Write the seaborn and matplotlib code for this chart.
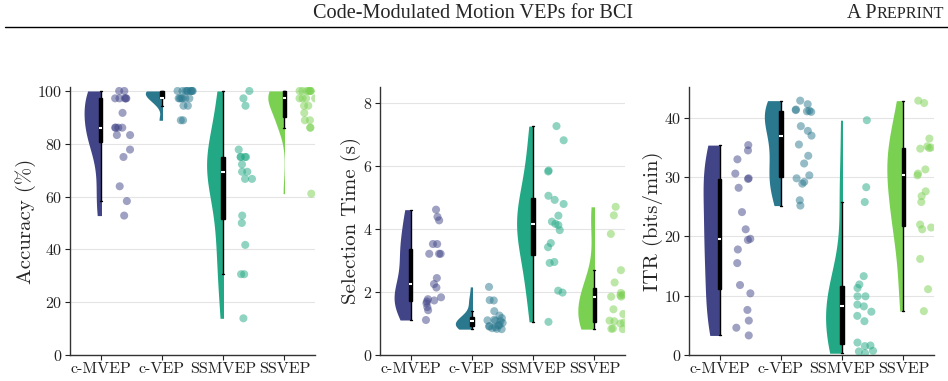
import numpy as np
import pandas as pd
import matplotlib
matplotlib.use("Agg")
import matplotlib.pyplot as plt
from matplotlib.lines import Line2D
from matplotlib.patches import Rectangle
import seaborn as sns

conditions = ["c-MVEP", "c-VEP", "SSMVEP", "SSVEP"]

acc_cmvep = [52.8, 58.3, 63.9, 75.0, 77.8, 83.3, 83.3, 86.1, 86.1, 86.1, 86.1, 91.7,
             97.2, 97.2, 97.2, 97.2, 97.2, 100.0, 100.0]
acc_cvep = [88.9, 88.9, 94.4, 94.4, 97.2, 97.2, 97.2, 97.2, 97.2, 97.2,
            100.0, 100.0, 100.0, 100.0, 100.0, 100.0, 100.0, 100.0, 100.0]
acc_ssmvep = [13.9, 30.6, 30.6, 41.7, 50.0, 52.8, 66.7, 66.7, 69.4, 69.4, 72.2,
              75.0, 75.0, 75.0, 75.0, 77.8, 94.4, 97.2, 100.0]
acc_ssvep = [61.1, 86.1, 86.1, 88.9, 88.9, 91.7, 94.4, 94.4, 97.2, 97.2, 97.2, 97.2,
             100.0, 100.0, 100.0, 100.0, 100.0, 100.0, 100.0]

st_cmvep = [1.11, 1.42, 1.52, 1.64, 1.70, 1.73, 1.77, 1.83, 2.14, 2.25, 2.44,
            3.21, 3.21, 3.21, 3.52, 3.52, 4.27, 4.38, 4.61]
st_cvep = [0.82, 0.83, 0.85, 0.88, 0.90, 0.92, 0.94, 0.95, 1.02, 1.07, 1.08,
           1.10, 1.12, 1.17, 1.25, 1.39, 1.73, 1.74, 2.16]
st_ssmvep = [1.05, 1.98, 2.04, 2.92, 2.95, 3.42, 3.55, 3.96, 4.12, 4.16, 4.23,
             4.42, 4.79, 4.92, 5.05, 5.82, 5.85, 6.81, 7.26]
st_ssvep = [0.82, 0.83, 0.84, 1.00, 1.03, 1.07, 1.09, 1.30, 1.45, 1.85, 1.85,
            1.89, 1.91, 1.97, 2.30, 2.69, 3.84, 4.43, 4.70]

itr_cmvep = [3.3, 4.6, 5.8, 7.6, 10.4, 11.8, 15.5, 17.8, 19.4, 19.6, 21.2,
             24.1, 28.2, 29.7, 29.8, 30.6, 33.0, 34.5, 35.4]
itr_cvep = [25.2, 26.1, 28.9, 29.2, 29.8, 30.3, 32.3, 33.6, 35.5, 37.0, 37.8,
            38.6, 41.0, 41.1, 41.2, 41.3, 41.4, 42.3, 42.9]
itr_ssmvep = [0.3, 0.6, 0.7, 1.5, 1.6, 2.1, 5.7, 6.6, 7.3, 8.2, 8.5, 9.9, 9.9,
              11.3, 11.9, 13.3, 25.8, 28.3, 39.6]
itr_ssvep = [7.4, 11.1, 16.2, 21.2, 21.5, 22.0, 25.8, 26.8, 27.6, 30.3, 30.6,
             31.3, 34.8, 34.9, 35.0, 35.2, 36.5, 42.5, 42.9]

ylabels = ["Accuracy (%)", "Selection Time (s)", "ITR (bits/min)"]
yticks_list = [[0, 20, 40, 60, 80, 100], [0, 2, 4, 6, 8], [0, 10, 20, 30, 40]]
ylims = [(0, 101.5), (0, 8.5), (0, 45.2)]

metrics = {
    "acc": [acc_cmvep, acc_cvep, acc_ssmvep, acc_ssvep],
    "st": [st_cmvep, st_cvep, st_ssmvep, st_ssvep],
    "itr": [itr_cmvep, itr_cvep, itr_ssmvep, itr_ssvep],
}

sns.set_style("ticks")
plt.rcParams["font.family"] = ["cmr10", "DejaVu Serif"]
plt.rcParams["mathtext.fontset"] = "cm"
plt.rcParams["axes.unicode_minus"] = False
plt.rcParams["axes.formatter.use_mathtext"] = True

palette = sns.color_palette("viridis", 4)
np.random.seed(3)

fig = plt.figure(figsize=(9.48, 3.81), dpi=100)
lefts = [70, 380, 689]
axes = [fig.add_axes([l / 948, 26 / 381, 245 / 948, 268 / 381]) for l in lefts]

for ax, key, ylabel, yt, yl in zip(axes, ["acc", "st", "itr"], ylabels, yticks_list, ylims):
    rows = []
    for cond, vals in zip(conditions, metrics[key]):
        for v in vals:
            rows.append((cond, v))
    df = pd.DataFrame(rows, columns=["cond", "val"])

    n0 = len(ax.collections)
    sns.violinplot(data=df, x="cond", y="val", order=conditions, color="gray",
                   inner=None, cut=0, density_norm="width",
                   width=0.54, linewidth=0, ax=ax)
    for i, (c, col) in enumerate(zip(ax.collections[n0:], palette)):
        # keep only the left half of each violin
        rect = Rectangle((i - 0.6, -1e4), 0.6, 2e4, transform=ax.transData)
        c.set_clip_path(rect)
        c.set_facecolor(col)
        c.set_edgecolor(col)
        c.set_alpha(1)

    sns.boxplot(data=df, x="cond", y="val", order=conditions, width=0.06,
                showfliers=False, color="black", linecolor="black", linewidth=1,
                medianprops=dict(color="white", linewidth=1.5),
                ax=ax)

    n1 = len(ax.collections)
    sns.stripplot(data=df, x="cond", y="val", order=conditions, hue="cond",
                  hue_order=conditions, palette=palette, jitter=0.14, size=5.8,
                  alpha=0.5, linewidth=0, legend=False, ax=ax)
    for c in ax.collections[n1:]:
        off = np.array(c.get_offsets())
        off[:, 0] += 0.37
        c.set_offsets(off)

    ax.set_xlim(-0.5, 3.5)
    ax.set_ylim(*yl)
    ax.set_yticks(yt)
    ax.set_xlabel("")
    ax.set_ylabel(ylabel, fontsize=15, labelpad=1)
    ax.yaxis.grid(True, color="#e4e4e4", linewidth=0.8)
    ax.set_axisbelow(True)
    ax.tick_params(axis="both", labelsize=11.5, length=3.5, width=0.8, colors="#222222",
                   pad=2)
    for s in ["left", "bottom"]:
        ax.spines[s].set_color("#333333")
        ax.spines[s].set_linewidth(1)
    sns.despine(ax=ax)

fig.text(473 / 948, 1 - 13.5 / 381, "Code-Modulated Motion VEPs for BCI",
         ha="center", va="center", family="Liberation Serif", fontsize=14.6)
t2 = fig.text(944 / 948, 1 - 13.5 / 381, "REPRINT", ha="right", va="center",
              family="Liberation Serif", fontsize=11.6)
fig.canvas.draw()
bb = t2.get_window_extent()
fig.text(bb.x0 / fig.bbox.width, 1 - 13.5 / 381, "A P", ha="right", va="center",
         family="Liberation Serif", fontsize=14.4)
fig.add_artist(Line2D([5 / 948, 1.0], [1 - 27 / 381, 1 - 27 / 381],
                      color="black", linewidth=1, transform=fig.transFigure))

fig.savefig("out.png", dpi=100)
